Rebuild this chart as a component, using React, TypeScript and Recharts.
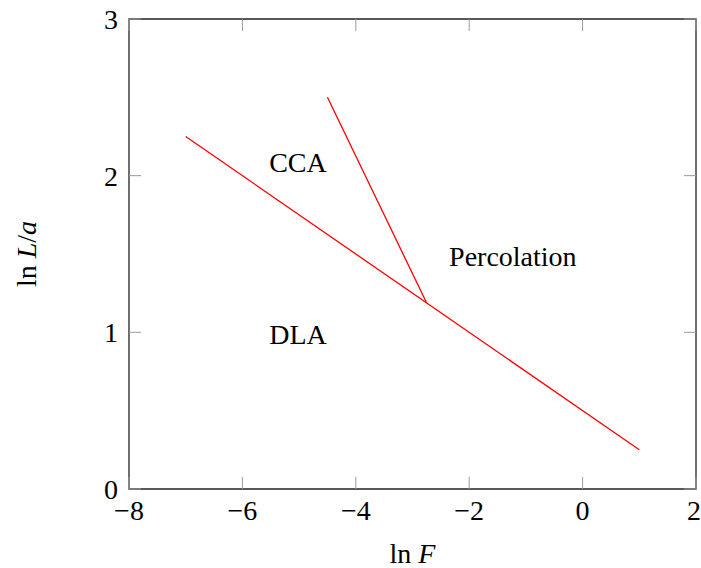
import React from 'react';
import { LineChart, Line, XAxis, YAxis, ReferenceArea, ReferenceDot, Label } from 'recharts';

// Data
const xTicks = [-8, -6, -4, -2, 0, 2];
const yTicks = [0, 1, 2, 3];
const xDomain = [-8, 2];
const yDomain = [0, 3];

const dlaBoundaryX = [-7, 1];
const dlaBoundaryY = [2.25, 0.25];
const ccaBoundaryX = [-4.5, -2.75];
const ccaBoundaryY = [2.5, 1.1875];

const regionNames = ['CCA', 'Percolation', 'DLA'];
const regionX = [-5.02, -1.23, -5.02];
const regionY = [2.09, 1.49, 0.99];

const dlaData = dlaBoundaryX.map((x, i) => ({ x, y: dlaBoundaryY[i] }));
const ccaData = ccaBoundaryX.map((x, i) => ({ x, y: ccaBoundaryY[i] }));

const FONT = '"Liberation Serif", "Times New Roman", serif';
const FS = 28;

const fmt = (v: number) => (v < 0 ? `\u2212${-v}` : `${v}`);
const blank = () => '';
const innerTick = { stroke: '#9a9a9a', strokeWidth: 1 };

export default function App() {
  return (
    <div style={{ position: 'absolute', left: 0, top: 0, width: 701, height: 568 }}>
      <LineChart width={701} height={568} margin={{ top: 18, right: 4, left: 0, bottom: 0 }}>
        <XAxis
          xAxisId="x"
          type="number"
          dataKey="x"
          domain={xDomain}
          ticks={xTicks}
          allowDataOverflow
          orientation="bottom"
          height={79}
          axisLine={false}
          tickLine={innerTick}
          tickSize={-12}
          tickMargin={23}
          tickFormatter={fmt}
          tick={{ fontFamily: FONT, fontSize: FS, fill: '#000' }}
          label={{
            content: (props: any) => {
              const vb = props.viewBox;
              return (
                <text
                  x={vb.x + vb.width / 2}
                  y={563}
                  textAnchor="middle"
                  fontFamily={FONT}
                  fontSize={FS}
                  fill="#000"
                >
                  ln <tspan fontStyle="italic">F</tspan>
                </text>
              );
            },
          }}
        />
        <XAxis
          xAxisId="xt"
          type="number"
          dataKey="x"
          domain={xDomain}
          ticks={xTicks}
          allowDataOverflow
          orientation="top"
          height={1}
          axisLine={false}
          tickFormatter={blank}
          tickSize={-12}
          tickMargin={0}
          tickLine={innerTick}
        />
        <YAxis
          yAxisId="y"
          type="number"
          domain={yDomain}
          ticks={yTicks}
          allowDataOverflow
          orientation="left"
          width={129}
          axisLine={false}
          tickLine={innerTick}
          tickSize={-12}
          tickMargin={23}
          tickFormatter={fmt}
          tick={{ fontFamily: FONT, fontSize: FS, fill: '#000' }}
          label={{
            content: (props: any) => {
              const vb = props.viewBox;
              const cy = vb.y + vb.height / 2;
              return (
                <text
                  x={36}
                  y={cy}
                  transform={`rotate(-90, 36, ${cy})`}
                  textAnchor="middle"
                  fontFamily={FONT}
                  fontSize={FS}
                  fill="#000"
                >
                  ln <tspan fontStyle="italic">L</tspan>/<tspan fontStyle="italic">a</tspan>
                </text>
              );
            },
          }}
        />
        <YAxis
          yAxisId="yr"
          type="number"
          domain={yDomain}
          ticks={yTicks}
          allowDataOverflow
          orientation="right"
          width={1}
          axisLine={false}
          tickFormatter={blank}
          tickSize={-12}
          tickMargin={0}
          tickLine={innerTick}
        />
        <ReferenceArea
          xAxisId="x"
          yAxisId="y"
          x1={xDomain[0]}
          x2={xDomain[1]}
          y1={yDomain[0]}
          y2={yDomain[1]}
          fill="none"
          fillOpacity={0}
          stroke="#222"
          strokeWidth={1.3}
          ifOverflow="visible"
        />
        <Line
          xAxisId="x"
          yAxisId="y"
          data={dlaData}
          dataKey="y"
          stroke="#ff0000"
          strokeWidth={1.3}
          dot={false}
          isAnimationActive={false}
        />
        <Line
          xAxisId="xt"
          yAxisId="yr"
          data={ccaData}
          dataKey="y"
          stroke="#ff0000"
          strokeWidth={1.3}
          dot={false}
          isAnimationActive={false}
        />
        {regionNames.map((name, i) => (
          <ReferenceDot
            key={name}
            xAxisId="x"
            yAxisId="y"
            x={regionX[i]}
            y={regionY[i]}
            r={0}
            fill="none"
            stroke="none"
            ifOverflow="visible"
          >
            <Label
              value={name}
              position="center"
              fontFamily={FONT}
              fontSize={FS}
              fill="#000"
            />
          </ReferenceDot>
        ))}
      </LineChart>
    </div>
  );
}
